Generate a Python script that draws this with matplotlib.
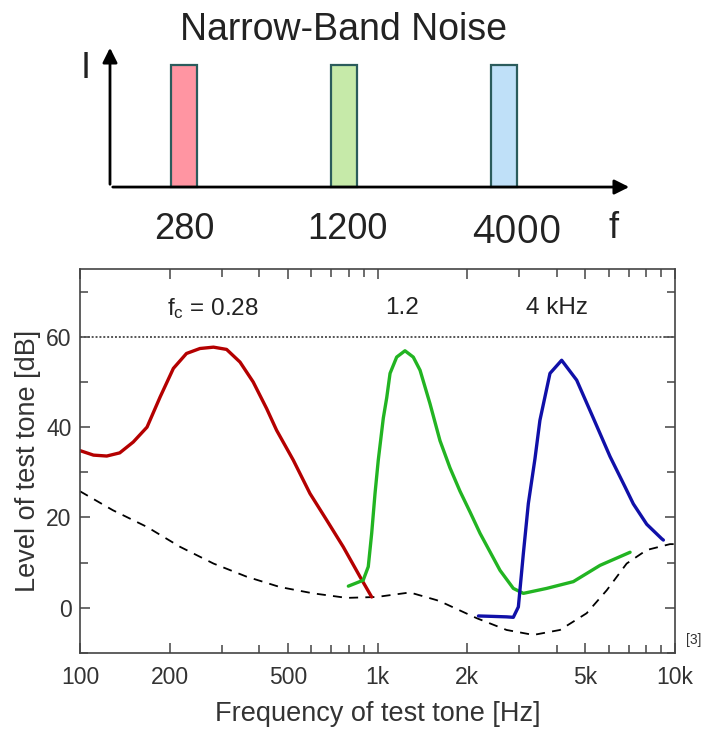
import matplotlib
matplotlib.use("Agg")
import matplotlib.pyplot as plt
from matplotlib.ticker import FixedLocator, NullFormatter

plt.rcParams['font.family'] = ['Liberation Sans', 'DejaVu Sans']
plt.rcParams['mathtext.default'] = 'regular'

# schematic (top)
noise_labels = ['280', '1200', '4000']
noise_colors = ['#ff95a2', '#c6eaa9', '#bfe0f8']
noise_level = [1, 1, 1]

# masking curves (Hz, dB)
red_f = [100, 111, 123, 136, 151, 168, 186, 206, 228, 253, 281, 311, 345, 382, 424,
         458, 521, 593, 675, 767, 873, 956]
red_db = [34.8, 33.8, 33.6, 34.3, 36.7, 40.0, 46.7, 53.0, 56.3, 57.4, 57.7, 57.2, 54.4, 50.0, 44.1,
          39.3, 32.7, 25.3, 19.4, 13.5, 6.9, 2.4]

green_f = [798, 895, 931, 956, 981, 1006, 1046, 1074, 1102, 1160, 1237, 1319, 1390, 1501, 1622,
           1752, 1894, 2047, 2211, 2581, 2861, 3092, 3704, 4553, 5598, 7063]
green_db = [4.8, 6.1, 9.1, 16.5, 25.3, 32.7, 42.0, 46.5, 51.9, 55.5, 56.9, 55.5, 52.6, 45.2, 37.0,
            31.0, 25.8, 21.2, 16.5, 8.3, 4.3, 3.2, 4.3, 5.8, 9.4, 12.3]

blue_f = [2184, 2450, 2716, 2861, 2975, 3092, 3214, 3383, 3515, 3800, 4159, 4672, 5314, 6047,
          6790, 7244, 8034, 9021, 9140]
blue_db = [-1.8, -1.9, -2.0, -2.1, 0.2, 12.0, 23.1, 33.0, 41.5, 51.9, 54.8, 50.4, 42.0, 33.5,
           26.8, 23.0, 18.5, 15.3, 15.0]

thr_f = [100, 129, 168, 217, 281, 363, 470, 608, 788, 993, 1285, 1581, 1665, 2156, 2716,
         3342, 4106, 5047, 5898, 6879, 8034, 9620, 10000]
thr_db = [25.8, 21.6, 17.9, 13.5, 9.8, 6.9, 4.6, 3.2, 2.2, 2.4, 3.4, 1.7, 1.1, -2.3, -4.9,
          -6.0, -4.9, -1.2, 3.9, 9.8, 12.8, 14.1, 14.1]

fc_text = ['f$_c$ = 0.28', '1.2', '4 kHz']
fc_hz = [280, 1205, 4000]
masker_level = 60

xticks = [100, 200, 500, 1000, 2000, 5000, 10000]
xticklabels = ['100', '200', '500', '1k', '2k', '5k', '10k']
xminor = [300, 400, 600, 700, 800, 900, 3000, 4000, 6000, 7000, 8000, 9000]

fig = plt.figure(figsize=(7.03, 7.29), dpi=100)

# ---- top schematic ----
ax0 = fig.add_axes([0, 469/729, 1, 260/729])
ax0.axis('off')
ax0.set_xlim(-1.15, 3.244)
ax0.set_ylim(-0.598, 1.533)
ax0.bar(range(3), noise_level, width=0.1625, color=noise_colors,
        edgecolor='#2b5c5c', linewidth=1.6, zorder=3)
ax0.annotate('', xy=(-0.4625, 1.164), xytext=(-0.4625, 0),
             arrowprops=dict(arrowstyle='-|>', color='black', lw=2, mutation_scale=22))
ax0.annotate('', xy=(2.8, 0), xytext=(-0.4625, 0),
             arrowprops=dict(arrowstyle='-|>', color='black', lw=2, mutation_scale=22))
ax0.text(0.994, 1.287, 'Narrow-Band Noise', ha='center', va='center', fontsize=27, color='#222222')
ax0.text(-0.6125, 0.975, 'I', ha='center', va='center', fontsize=26, color='#222222')
ax0.text(2.6875, -0.336, 'f', ha='center', va='center', fontsize=26, color='#222222')
ax0.text(0, -0.352, noise_labels[0], ha='center', va='center', fontsize=26, color='#222222')
ax0.text(1.02, -0.352, noise_labels[1], ha='center', va='center', fontsize=26, color='#222222')
ax0.text(2.08, -0.377, noise_labels[2], ha='center', va='center', fontsize=28,
         color='#222222', family=['Open Sans', 'DejaVu Sans'])

# ---- masking plot ----
ax = fig.add_axes([80/703, 76/729, 595/703, 384/729])
ax.set_xscale('log')
ax.set_xlim(100, 10000)
ax.set_ylim(-10, 75)

ax.axhline(masker_level, color='#555555', lw=1.4, ls=(0, (1, 1)))
ax.plot(thr_f, thr_db, color='black', lw=1.3, ls=(0, (5, 4)))
ax.plot(red_f, red_db, color='#b40000', lw=2.4, solid_capstyle='round', solid_joinstyle='round')
ax.plot(green_f, green_db, color='#22b422', lw=2.4, solid_capstyle='round', solid_joinstyle='round')
ax.plot(blue_f, blue_db, color='#1010a8', lw=2.4, solid_capstyle='round', solid_joinstyle='round')

for t, f in zip(fc_text, fc_hz):
    ax.text(f, 66.3, t, ha='center', va='center', fontsize=17.5, color='#222222')

ax.xaxis.set_major_locator(FixedLocator(xticks))
ax.set_xticklabels(xticklabels)
ax.xaxis.set_minor_locator(FixedLocator(xminor))
ax.xaxis.set_minor_formatter(NullFormatter())
ax.yaxis.set_major_locator(FixedLocator([0, 20, 40, 60]))
ax.yaxis.set_minor_locator(FixedLocator([-10, 10, 30, 50, 70]))
ax.tick_params(which='both', direction='in', top=True, right=True, colors='#444444',
               labelcolor='#333333', labelsize=16.5)
ax.tick_params(which='major', length=7, width=1.1)
ax.tick_params(which='minor', length=6, width=1.1)
ax.tick_params(axis='x', pad=9)
ax.tick_params(axis='y', pad=6)
for s in ax.spines.values():
    s.set_color('#444444')
    s.set_linewidth(1.2)

ax.set_xlabel('Frequency of test tone [Hz]', fontsize=19.5, color='#333333', labelpad=9)
ax.set_ylabel('Level of test tone [dB]', fontsize=19.5, color='#333333', labelpad=4)

fig.text(686/703, 1 - 640/729, '[3]', fontsize=10, color='#333333', va='center')

fig.savefig('out.png', dpi=100)
